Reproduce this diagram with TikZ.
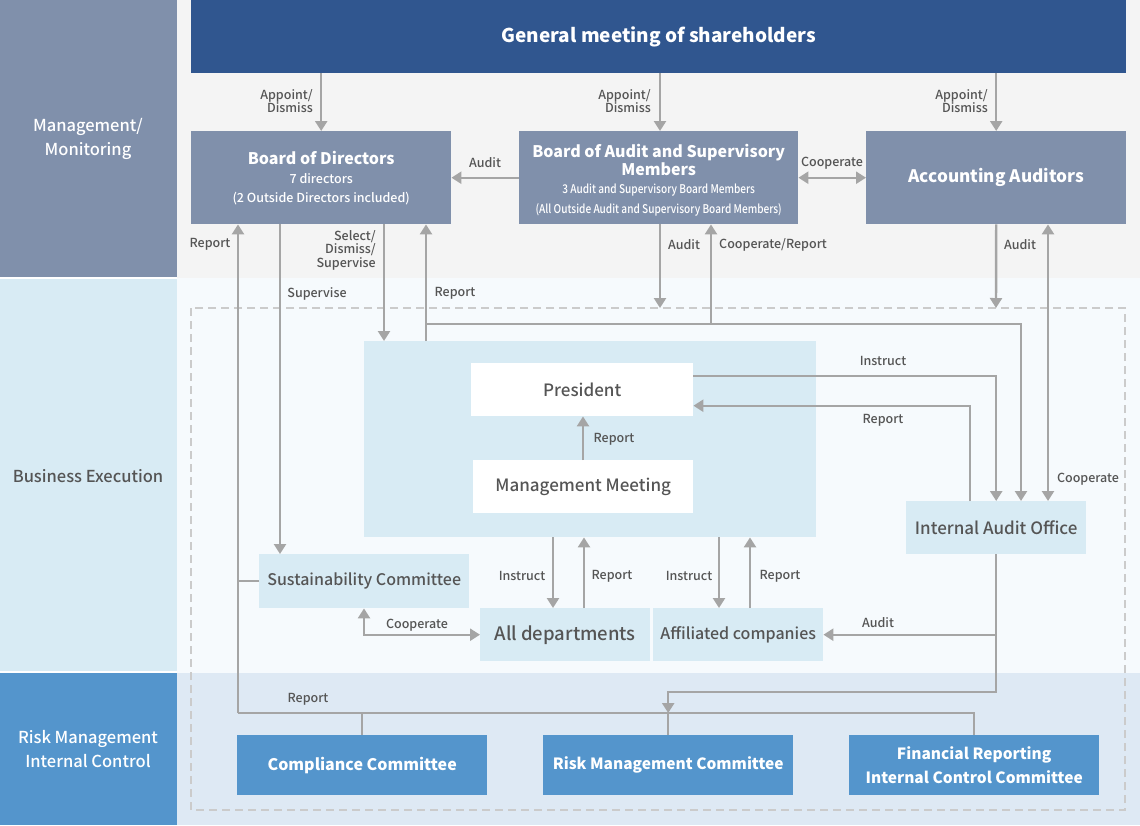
\documentclass[tikz,border=0pt]{standalone}
\usepackage{fontspec}
\setmainfont{Noto Sans CJK JP}
\newfontfamily\medfont{Noto Sans CJK JP Medium}
\usepackage{graphicx}
\usetikzlibrary{arrows.meta}
\definecolor{gmblue}{HTML}{30568F}
\definecolor{slate}{HTML}{8090AB}
\definecolor{lblue}{HTML}{D8EBF4}
\definecolor{mblue}{HTML}{5495CC}
\definecolor{bgA}{HTML}{F4F4F4}
\definecolor{bgB}{HTML}{F6FAFD}
\definecolor{bgC}{HTML}{DEE9F4}
\definecolor{agray}{HTML}{A5A5A5}
\definecolor{tgray}{HTML}{555555}
\definecolor{dgray}{HTML}{CBCBCB}
\newcommand\fz[1]{\fontsize{#1}{#1}\selectfont}
\begin{document}
\begin{tikzpicture}[x=1pt,y=-1pt,
  boxbase/.style={anchor=north west, inner sep=0pt, align=center},
  slatebox/.style={boxbase, fill=slate, text=white},
  lbbox/.style={boxbase, fill=lblue, text=tgray, font=\medfont},
  whbox/.style={boxbase, fill=white, text=tgray, font=\medfont},
  rmbox/.style={boxbase, fill=mblue, text=white, font=\bfseries\fz{16.5}, minimum width=250pt, minimum height=60pt},
  ln/.style={draw=agray, line width=2.4pt},
  arr/.style={ln, -{Triangle[width=12pt,length=10pt]}},
  arrb/.style={ln, {Triangle[width=12pt,length=10pt]}-{Triangle[width=12pt,length=10pt]}},
  lbl/.style={inner sep=0pt, text=tgray, font=\medfont\fz{12.5}, align=center},
  side/.style={inner sep=0pt, align=center, font=\medfont\fz{16.5}}
]
\useasboundingbox (0,0) rectangle (1140,825);
% backgrounds
\fill[slate] (0,0) rectangle (177,277);
\fill[lblue] (0,279) rectangle (177,671);
\fill[mblue] (0,673) rectangle (177,825);
\fill[bgA] (177,0) rectangle (1140,278);
\fill[bgB] (177,278) rectangle (1140,673);
\fill[bgC] (177,673) rectangle (1140,825);
\draw[dgray, line width=1.5pt, dash pattern=on 8pt off 5pt] (191,308) rectangle (1125,810);

% side labels
\node[side, text=white] (s1) at (88,139) {Management/\\[5pt]Monitoring};
\node[side, text=tgray] (s2) at (88,476) {Business Execution};
\node[side, text=white] (s3) at (88,749) {Risk Management\\[5pt]Internal Control};

% boxes
\node[boxbase, fill=gmblue, text=white, minimum width=935pt, minimum height=73pt, font=\bfseries\fz{19}] (gm) at (191,0) {\raisebox{-2pt}{General meeting of shareholders}};
\node[slatebox, minimum width=260pt, minimum height=93pt] (bod) at (191,131)
  {{\bfseries\fz{16}Board of Directors}\\[7pt]{\medfont\fz{12.5}7 directors}\\[7pt]{\medfont\fz{12.5}(2 Outside Directors included)}};
\node[slatebox, minimum width=279pt, minimum height=93pt] (boa) at (519,131) {};
\node[inner sep=0pt, align=center, text=white] (boat) at ([yshift=-3pt]boa.center)
  {{\bfseries\fz{16}Board of Audit and Supervisory}\\[0pt]{\bfseries\fz{16}Members}\\[6pt]{\medfont\fz{12}\scalebox{0.84}[1]{3 Audit and Supervisory Board Members}}\\[7pt]{\medfont\fz{12}\scalebox{0.84}[1]{(All Outside Audit and Supervisory Board Members)}}};
\node[slatebox, minimum width=260pt, minimum height=93pt, font=\bfseries\fz{17.2}] (aa) at (866,131) {Accounting Auditors};

\node[boxbase, fill=lblue, minimum width=452pt, minimum height=196pt] (exec) at (364,341) {};
\node[whbox, minimum width=222pt, minimum height=53pt, font=\medfont\fz{17}] (pres) at (471,363) {President};
\node[whbox, minimum width=220pt, minimum height=53pt, font=\medfont\fz{17}] (mm) at (473,460) {Management Meeting};
\node[lbbox, minimum width=180pt, minimum height=53pt, font=\medfont\fz{17}] (iao) at (906,501) {Internal Audit Office};
\node[lbbox, minimum width=210pt, minimum height=54pt, font=\medfont\fz{16}] (sc) at (259,554) {Sustainability Committee};
\node[lbbox, minimum width=170pt, minimum height=53pt, font=\medfont\fz{18.5}] (ad) at (480,608) {All departments};
\node[lbbox, minimum width=170pt, minimum height=53pt, font=\medfont\fz{16}] (ac) at (653,608) {Affiliated companies};
\node[rmbox, font=\bfseries\fz{16}] (cc) at (237,735) {Compliance Committee};
\node[rmbox, font=\bfseries\fz{15.5}] (rmc) at (543,735) {Risk Management Committee};
\node[rmbox, font=\bfseries\fz{15.5}] (fr) at (849,735) {Financial Reporting\\[6pt]Internal Control Committee};

% top arrows
\draw[arr] (gm.south -| bod.north) -- (bod.north);
\draw[arr] (gm.south -| 660,0) -- (boa.north -| 660,0);
\draw[arr] (gm.south -| aa.north) -- (aa.north);
\node[lbl, anchor=east, align=right] at (313,101) {Appoint/\\Dismiss};
\node[lbl, anchor=east, align=right] at (651,101) {Appoint/\\Dismiss};
\node[lbl, anchor=east, align=right] at (988,101) {Appoint/\\Dismiss};

\draw[arr] (boa.west) -- (bod.east);
\node[lbl] at (485,163) {Audit};
\draw[arrb] (boa.east) -- (aa.west);
\node[lbl] at (832,163) {Cooperate};

% report tree
\coordinate (rep) at (238,713);
\draw[arr] (rep) -- (rep |- bod.south);
\draw[ln] (rep) -- (rep -| fr.north) -- (fr.north);
\draw[ln] (cc.north) -- (cc.north |- rep);
\draw[ln] (rmc.north) -- (rmc.north |- rep);
\draw[ln] (sc.west) -- (sc.west -| rep);
\node[lbl] at (210,244) {Report};
\node[lbl] at (308,699) {Report};

% from board of directors
\draw[arr] (bod.south -| 280,0) -- (sc.north -| 280,0);
\node[lbl] at (317,294) {Supervise};
\draw[arr] (bod.south -| 384,0) -- (exec.north -| 384,0);
\node[lbl, anchor=east, align=right] at (376,250) {Select/\\[1pt]Dismiss/\\[1pt]Supervise};
\draw[arr] (exec.north -| 426,0) -- (bod.south -| 426,0);
\node[lbl] at (455,293) {Report};
\coordinate (j) at (426,324);
\draw[arr] (j) -- (1021,324) -- (iao.north -| 1021,0);
\draw[arr] (j -| 711,0) -- (boa.south -| 711,0);
\node[lbl] at (773,245) {Cooperate/Report};
\draw[arr] (boa.south -| 660,0) -- (660,308);
\node[lbl] at (684,245) {Audit};
\draw[arr] (aa.south) -- (996,308);
\node[lbl] at (1020,245) {Audit};
\draw[arrb] (aa.south -| 1048,0) -- (iao.north -| 1048,0);
\node[lbl] at (1088,479) {Cooperate};

% president / management meeting
\draw[arr] (mm.north -| 583,0) -- (pres.south -| 583,0);
\node[lbl] at (614,439) {Report};
\draw[arr] ([yshift=14pt]pres.east) -| (iao.north);
\node[lbl] at (883,361) {Instruct};
\draw[arr] (iao.north -| 970,0) |- ([yshift=-16pt]pres.east);
\node[lbl] at (883,420) {Report};

% exec to departments
\draw[arr] (exec.south -| 553,0) -- (ad.north -| 553,0);
\draw[arr] (ad.north -| 584,0) -- (exec.south -| 584,0);
\draw[arr] (exec.south -| 719,0) -- (ac.north -| 719,0);
\draw[arr] (ac.north -| 750,0) -- (exec.south -| 750,0);
\node[lbl] at (522,576) {Instruct};
\node[lbl] at (612,576) {Report};
\node[lbl] at (689,576) {Instruct};
\node[lbl] at (780,576) {Report};

\draw[arrb] (sc.south -| 364,0) |- (ad.west);
\node[lbl] at (417,625) {Cooperate};

% internal audit office down
\draw[arr] (iao.south) -- (iao.south |- 0,692) -| (rep -| rmc.north);
\draw[arr] (iao.south |- ac.east) -- (ac.east);
\node[lbl] at (878,623) {Audit};
\end{tikzpicture}
\end{document}
